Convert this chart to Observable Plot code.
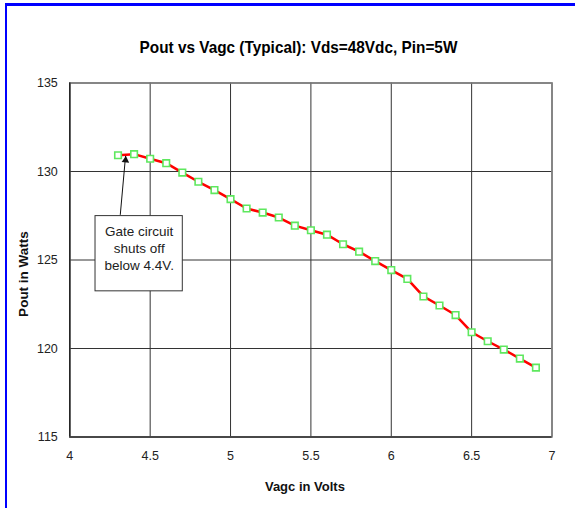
<!DOCTYPE html>
<html><head><meta charset="utf-8">
<script src="https://cdn.jsdelivr.net/npm/d3@7"></script>
<script src="https://cdn.jsdelivr.net/npm/@observablehq/plot@0.6"></script>
<style>
html,body{margin:0;padding:0;background:#fff;}
body{width:575px;height:508px;overflow:hidden;position:relative;font-family:"Liberation Sans",Arial,sans-serif;}
#border{position:absolute;left:5px;top:3px;right:0;bottom:0;border-left:2px solid #0000ff;border-top:3px solid #0000ff;pointer-events:none;}
#title{position:absolute;left:0;top:37px;width:597px;text-align:center;font-weight:bold;font-size:16.5px;line-height:20px;color:#000;white-space:nowrap;transform:scaleX(0.93);transform-origin:298.5px 50%;}
#chart{position:absolute;left:0;top:0;}
</style>
</head><body>
<div id="chart"></div>
<div id="border"></div>
<div id="title">Pout vs Vagc (Typical): Vds=48Vdc, Pin=5W</div>
<script>
const vagc = [4.3,4.4,4.5,4.6,4.7,4.8,4.9,5.0,5.1,5.2,5.3,5.4,5.5,5.6,5.7,5.8,5.9,6.0,6.1,6.2,6.3,6.4,6.5,6.6,6.7,6.8,6.9];
const pout = [130.92,130.98,130.72,130.47,129.94,129.42,128.95,128.44,127.91,127.68,127.40,126.94,126.68,126.43,125.89,125.47,124.94,124.43,123.93,122.94,122.43,121.89,120.92,120.41,119.94,119.43,118.92];
const xTicks = [4,4.5,5,5.5,6,6.5,7];
const xTickLabels = ["4","4.5","5","5.5","6","6.5","7"];
const yTicks = [115,120,125,130,135];
const yTickLabels = ["115","120","125","130","135"];
const xLabel = "Vagc in Volts";
const yLabel = "Pout in Watts";
const noteText = ["Gate circuit\nshuts off\nbelow 4.4V."];
const noteBox = [{x1:4.16,x2:4.703,y1:123.23,y2:127.48}];
const noteTextPos = [{x:4.432,y:127.05}];
const noteArrow = [{x1:4.314,y1:127.55,x2:4.347,y2:130.88}];

const data = vagc.map((v,i)=>({vagc:v,pout:pout[i]}));
const font = "Liberation Sans, Arial, sans-serif";

const chart = Plot.plot({
  width: 575,
  height: 508,
  marginLeft: 69.3,
  marginRight: 23.5,
  marginTop: 82.5,
  marginBottom: 71.5,
  style: {fontFamily: font, background: "transparent", color: "#222"},
  x: {domain: [4,7], ticks: xTicks},
  y: {domain: [115,135], ticks: yTicks},
  marks: [
    Plot.gridX(xTicks, {stroke: "#333", strokeOpacity: 1, strokeWidth: 1}),
    Plot.gridY(yTicks, {stroke: "#333", strokeOpacity: 1, strokeWidth: 1}),
    Plot.frame({stroke: "#808080", strokeWidth: 1.5}),
    Plot.ruleX([4], {stroke: "#111", strokeWidth: 1.2}),
    Plot.ruleY([115], {stroke: "#333", strokeWidth: 1.5}),
    Plot.axisX(xTicks, {tickSize: 0, tickPadding: 14.5, fontSize: 12.5, label: null, tickFormat: (d,i)=>xTickLabels[i]}),
    Plot.axisY(yTicks, {tickSize: 0, tickPadding: 12, fontSize: 12.5, label: null, tickFormat: (d,i)=>yTickLabels[i]}),
    Plot.text([xLabel], {frameAnchor: "bottom", dy: 54, dx: -6, text: d=>d, fontSize: 13, fontWeight: "bold", fill: "#111"}),
    Plot.text([yLabel], {frameAnchor: "left", textAnchor: "middle", dx: -46, dy: 14, rotate: -90, text: d=>d, fontSize: 13.5, fontWeight: "bold", fill: "#111"}),
    Plot.line(data, {x: "vagc", y: "pout", stroke: "#ff0000", strokeWidth: 2.5}),
    Plot.dot(data, {x: "vagc", y: "pout", symbol: "square", r: 3.7, fill: "white", stroke: "#5ee85e", strokeWidth: 1.6}),
    Plot.rect(noteBox, {x1: "x1", x2: "x2", y1: "y1", y2: "y2", fill: "white", stroke: "#333", strokeWidth: 1}),
    Plot.text(noteText, {x: noteTextPos.map(d=>d.x), y: noteTextPos.map(d=>d.y), text: d=>d, lineAnchor: "top", lineHeight: 1.27, fontSize: 13.5, fill: "#222"}),
    Plot.link(noteArrow, {x1: "x1", y1: "y1", x2: "x2", y2: "y2", stroke: "#111", strokeWidth: 1}),
    Plot.dot(noteArrow, {x: "x2", y: "y2", symbol: "triangle", r: 2.8, fill: "#111", stroke: "none", dy: 4.3, rotate: 5})
  ]
});
document.getElementById("chart").appendChild(chart);
</script>
</body></html>
